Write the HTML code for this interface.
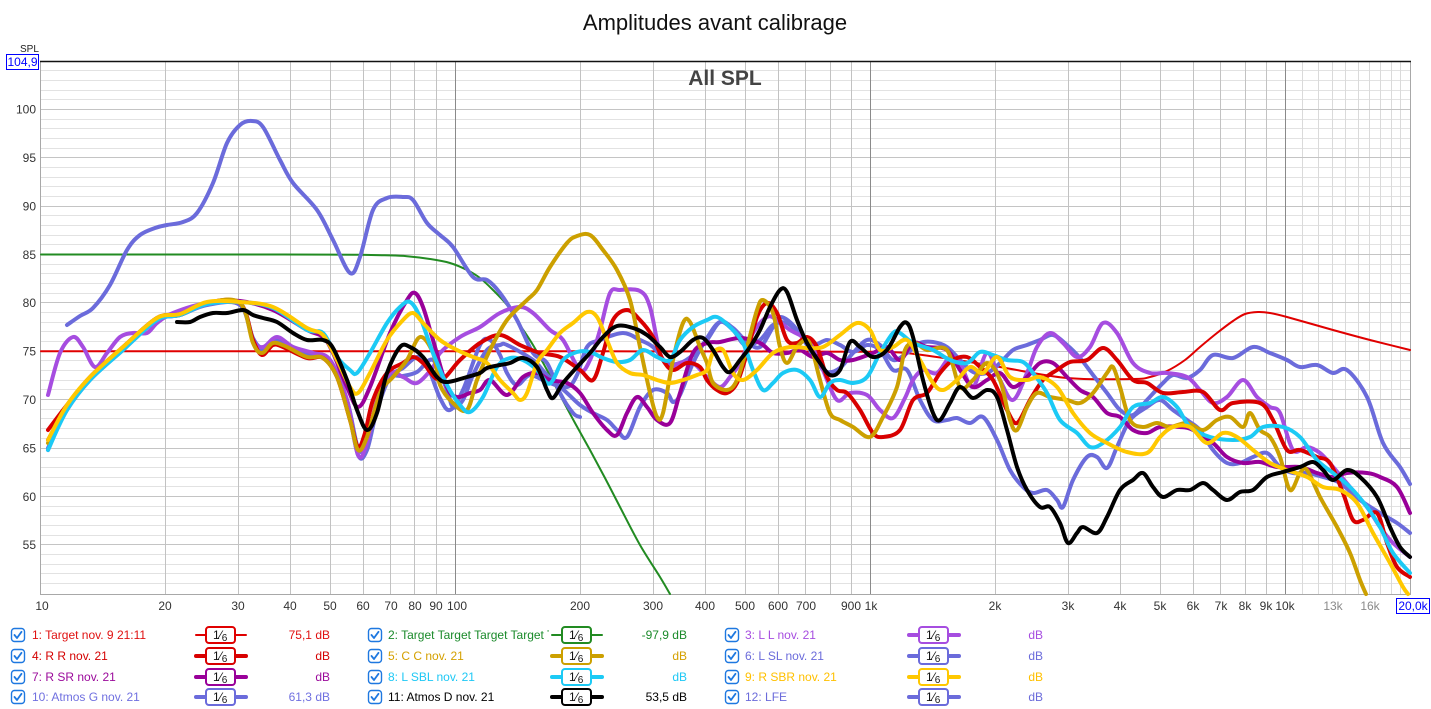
<!DOCTYPE html>
<html>
<head>
<meta charset="utf-8">
<style>
html,body{margin:0;padding:0;background:#fff;}
svg{display:block;}
text{font-family:"Liberation Sans",Arial,sans-serif;}
</style>
</head>
<body>
<svg id="chart" width="1431" height="709" viewBox="0 0 1431 709" xmlns="http://www.w3.org/2000/svg">
<rect x="0" y="0" width="1431" height="709" fill="#fff"/>
<text x="715" y="30" font-size="22" text-anchor="middle" fill="#111">Amplitudes avant calibrage</text>

<g stroke="#e2e2e2" stroke-width="1">
<line x1="40" x2="1410" y1="70.5" y2="70.5"/><line x1="40" x2="1410" y1="80.5" y2="80.5"/><line x1="40" x2="1410" y1="90.5" y2="90.5"/><line x1="40" x2="1410" y1="99.5" y2="99.5"/>
<line x1="40" x2="1410" y1="119.5" y2="119.5"/><line x1="40" x2="1410" y1="128.5" y2="128.5"/><line x1="40" x2="1410" y1="138.5" y2="138.5"/><line x1="40" x2="1410" y1="148.5" y2="148.5"/>
<line x1="40" x2="1410" y1="167.5" y2="167.5"/><line x1="40" x2="1410" y1="177.5" y2="177.5"/><line x1="40" x2="1410" y1="186.5" y2="186.5"/><line x1="40" x2="1410" y1="196.5" y2="196.5"/>
<line x1="40" x2="1410" y1="215.5" y2="215.5"/><line x1="40" x2="1410" y1="225.5" y2="225.5"/><line x1="40" x2="1410" y1="235.5" y2="235.5"/><line x1="40" x2="1410" y1="244.5" y2="244.5"/>
<line x1="40" x2="1410" y1="264.5" y2="264.5"/><line x1="40" x2="1410" y1="273.5" y2="273.5"/><line x1="40" x2="1410" y1="283.5" y2="283.5"/><line x1="40" x2="1410" y1="293.5" y2="293.5"/>
<line x1="40" x2="1410" y1="312.5" y2="312.5"/><line x1="40" x2="1410" y1="322.5" y2="322.5"/><line x1="40" x2="1410" y1="331.5" y2="331.5"/><line x1="40" x2="1410" y1="341.5" y2="341.5"/>
<line x1="40" x2="1410" y1="360.5" y2="360.5"/><line x1="40" x2="1410" y1="370.5" y2="370.5"/><line x1="40" x2="1410" y1="380.5" y2="380.5"/><line x1="40" x2="1410" y1="389.5" y2="389.5"/>
<line x1="40" x2="1410" y1="409.5" y2="409.5"/><line x1="40" x2="1410" y1="418.5" y2="418.5"/><line x1="40" x2="1410" y1="428.5" y2="428.5"/><line x1="40" x2="1410" y1="438.5" y2="438.5"/>
<line x1="40" x2="1410" y1="457.5" y2="457.5"/><line x1="40" x2="1410" y1="467.5" y2="467.5"/><line x1="40" x2="1410" y1="477.5" y2="477.5"/><line x1="40" x2="1410" y1="486.5" y2="486.5"/>
<line x1="40" x2="1410" y1="506.5" y2="506.5"/><line x1="40" x2="1410" y1="515.5" y2="515.5"/><line x1="40" x2="1410" y1="525.5" y2="525.5"/><line x1="40" x2="1410" y1="535.5" y2="535.5"/>
<line x1="40" x2="1410" y1="554.5" y2="554.5"/><line x1="40" x2="1410" y1="564.5" y2="564.5"/><line x1="40" x2="1410" y1="573.5" y2="573.5"/><line x1="40" x2="1410" y1="583.5" y2="583.5"/>
</g>
<g stroke="#dadada" stroke-width="1">
<line x1="1302.5" x2="1302.5" y1="62" y2="594"/><line x1="1318.5" x2="1318.5" y1="62" y2="594"/><line x1="1332.5" x2="1332.5" y1="62" y2="594"/><line x1="1345.5" x2="1345.5" y1="62" y2="594"/><line x1="1358.5" x2="1358.5" y1="62" y2="594"/><line x1="1369.5" x2="1369.5" y1="62" y2="594"/><line x1="1380.5" x2="1380.5" y1="62" y2="594"/><line x1="1391.5" x2="1391.5" y1="62" y2="594"/><line x1="1400.5" x2="1400.5" y1="62" y2="594"/>
</g>
<g stroke="#c4c4c4" stroke-width="1">
<line x1="40" x2="1410" y1="109.5" y2="109.5"/><line x1="40" x2="1410" y1="157.5" y2="157.5"/><line x1="40" x2="1410" y1="206.5" y2="206.5"/><line x1="40" x2="1410" y1="254.5" y2="254.5"/>
<line x1="40" x2="1410" y1="302.5" y2="302.5"/><line x1="40" x2="1410" y1="351.5" y2="351.5"/><line x1="40" x2="1410" y1="399.5" y2="399.5"/><line x1="40" x2="1410" y1="448.5" y2="448.5"/>
<line x1="40" x2="1410" y1="496.5" y2="496.5"/><line x1="40" x2="1410" y1="544.5" y2="544.5"/>
</g>
<g stroke="#c2c2c2" stroke-width="1">
<line x1="165.5" x2="165.5" y1="62" y2="594"/><line x1="238.5" x2="238.5" y1="62" y2="594"/><line x1="290.5" x2="290.5" y1="62" y2="594"/><line x1="330.5" x2="330.5" y1="62" y2="594"/><line x1="363.5" x2="363.5" y1="62" y2="594"/><line x1="390.5" x2="390.5" y1="62" y2="594"/><line x1="414.5" x2="414.5" y1="62" y2="594"/><line x1="436.5" x2="436.5" y1="62" y2="594"/>
<line x1="580.5" x2="580.5" y1="62" y2="594"/><line x1="653.5" x2="653.5" y1="62" y2="594"/><line x1="705.5" x2="705.5" y1="62" y2="594"/><line x1="745.5" x2="745.5" y1="62" y2="594"/><line x1="778.5" x2="778.5" y1="62" y2="594"/><line x1="805.5" x2="805.5" y1="62" y2="594"/><line x1="830.5" x2="830.5" y1="62" y2="594"/><line x1="851.5" x2="851.5" y1="62" y2="594"/>
<line x1="995.5" x2="995.5" y1="62" y2="594"/><line x1="1068.5" x2="1068.5" y1="62" y2="594"/><line x1="1120.5" x2="1120.5" y1="62" y2="594"/><line x1="1160.5" x2="1160.5" y1="62" y2="594"/><line x1="1193.5" x2="1193.5" y1="62" y2="594"/><line x1="1220.5" x2="1220.5" y1="62" y2="594"/><line x1="1245.5" x2="1245.5" y1="62" y2="594"/><line x1="1266.5" x2="1266.5" y1="62" y2="594"/>
</g>
<g stroke="#8a8a8a" stroke-width="1">
<line x1="455.5" x2="455.5" y1="62" y2="594"/><line x1="870.5" x2="870.5" y1="62" y2="594"/><line x1="1285.5" x2="1285.5" y1="62" y2="594"/>
</g>
<line x1="40.5" x2="40.5" y1="61" y2="594" stroke="#a8a8a8"/>
<line x1="1410.5" x2="1410.5" y1="61" y2="594" stroke="#a8a8a8"/>
<line x1="40" x2="1411" y1="594.5" y2="594.5" stroke="#a8a8a8"/>
<line x1="40" x2="1411" y1="61.5" y2="61.5" stroke="#111" stroke-width="1.5"/>

<text x="725" y="85" font-size="21" font-weight="bold" text-anchor="middle" fill="#444">All SPL</text>

<g font-size="12" fill="#333" text-anchor="end">
<text x="36" y="113.5">100</text><text x="36" y="162">95</text><text x="36" y="210.5">90</text><text x="36" y="259">85</text>
<text x="36" y="307">80</text><text x="36" y="355.5">75</text><text x="36" y="404">70</text><text x="36" y="452.5">65</text>
<text x="36" y="501">60</text><text x="36" y="549">55</text>
</g>
<text x="20" y="52" font-size="10" fill="#222">SPL</text>
<rect x="6.5" y="54.5" width="32" height="15" fill="#fff" stroke="#0000ff"/>
<text x="22.5" y="66" font-size="12" fill="#0000ff" text-anchor="middle">104,9</text>

<g font-size="12" fill="#333" text-anchor="middle">
<text x="42" y="610">10</text><text x="165" y="610">20</text><text x="238" y="610">30</text><text x="290" y="610">40</text><text x="330" y="610">50</text><text x="363" y="610">60</text><text x="391" y="610">70</text><text x="415" y="610">80</text><text x="436" y="610">90</text><text x="457" y="610">100</text>
<text x="580" y="610">200</text><text x="653" y="610">300</text><text x="705" y="610">400</text><text x="745" y="610">500</text><text x="778" y="610">600</text><text x="806" y="610">700</text><text x="851" y="610">900</text><text x="871" y="610">1k</text>
<text x="995" y="610">2k</text><text x="1068" y="610">3k</text><text x="1120" y="610">4k</text><text x="1160" y="610">5k</text><text x="1193" y="610">6k</text><text x="1221" y="610">7k</text><text x="1245" y="610">8k</text><text x="1266" y="610">9k</text><text x="1285" y="610">10k</text>
<text x="1333" y="610" fill="#8a8a8a">13k</text><text x="1370" y="610" fill="#8a8a8a">16k</text>
</g>
<rect x="1396.5" y="598.5" width="33" height="15" fill="#fff" stroke="#0000ff"/>
<text x="1413" y="610" font-size="12" fill="#0000ff" text-anchor="middle">20,0k</text>

<g id="curves" fill="none" stroke-linejoin="round" stroke-linecap="round">
<polyline class="s" stroke="#228b22" stroke-width="2" points="41,254.5 100,254.5 160,254.5 220,254.5 280,254.5 330,254.6 360,254.8 385,255.3 407,256.2 430,259 450,263 467,270 480,278 493,290 507,305 520,325 533,345 547,370 560,395 575,423 590,450 605,478 620,507 640,545 660,577 670,594"/>
<polyline class="s" stroke="#e00000" stroke-width="2" points="41,351.3 150,351.3 300,351.3 450,351.3 600,351.3 750,351.4 850,351.7 900,352.5 950,359 1000,367 1067,378 1133,379 1150,377 1167,371 1185,360 1200,347 1217,333 1233,321 1245,314 1258,312 1270,313 1287,317 1333,330 1370,340 1410,350"/>

<polyline class="s" stroke="#6b6bdb" stroke-width="4" points="67,325 80,316 93,308 110,285 127,250 140,235 155,228 167,225 183,222 197,213 213,183 227,143 240,125 252,121 263,127 280,160 293,183 317,210 333,240 350,273 360,257 373,210 387,198 403,197 413,200 427,223 440,235 453,247 473,277 487,280 500,293 517,320 533,353 547,363 560,393 573,413 580,417"/>
<polyline class="s" stroke="#6b6bdb" stroke-width="4" points="48,450 67,408 90,378 123,348 157,320 180,315 207,305 240,305 253,340 263,350 277,340 293,348 313,355 330,362 347,405 358,455 367,450 377,410 390,377 403,368 417,357 427,365 440,398 450,410 463,390 480,345 490,340 500,355 507,373 517,385 530,375 547,382 567,387 577,375 587,347 600,340 623,333 640,340 653,347 667,363 680,363 693,355 707,340 720,322 733,328 747,342 760,347 773,327 780,317 793,325 807,345 817,362 827,372 840,368 853,353 867,340 880,345 893,360 907,353 920,343 933,342 947,347 960,360 973,372 987,373 1000,363 1013,350 1027,345 1040,340 1053,335 1067,345 1080,358 1093,375 1107,393 1120,410 1133,415 1147,400 1163,383 1173,375 1187,378 1200,370 1213,355 1233,358 1253,347 1270,353 1287,360 1300,367 1317,365 1333,373 1347,370 1367,397 1383,443 1400,467 1410,484"/>
<polyline class="s" stroke="#6b6bdb" stroke-width="4" points="48,448 67,410 90,380 123,350 157,320 180,315 207,304 240,304 253,338 263,348 277,340 293,348 313,355 330,360 347,400 358,448 367,445 377,405 390,378 403,376 417,372 433,360 447,390 453,407 463,400 473,375 487,350 500,345 507,345 533,360 547,375 567,393 580,405 593,413 607,420 617,430 627,437 640,407 653,390 667,393 673,402 680,395 693,363 707,338 720,322 733,330 745,345 760,340 773,325 787,323 800,335 813,345 827,340 840,345 853,352 867,345 880,350 893,370 907,370 920,400 933,420 947,420 957,418 970,423 983,417 997,440 1010,470 1023,487 1033,493 1047,490 1057,500 1063,507 1073,480 1087,457 1097,457 1107,468 1117,447 1130,420 1147,407 1160,400 1173,410 1187,420 1200,430 1213,450 1227,463 1240,463 1253,457 1267,453 1280,467 1293,473 1307,473 1323,477 1340,483 1360,500 1380,513 1397,523 1410,533"/>
<polyline class="s" stroke="#a64de0" stroke-width="4" points="48,395 60,353 73,337 83,347 95,367 107,353 120,337 133,333 147,333 157,323 173,313 207,303 240,303 253,340 263,347 277,337 293,347 313,353 330,360 347,400 358,455 367,443 377,400 390,373 403,377 417,383 433,367 440,353 460,337 480,327 500,313 520,307 533,313 550,330 563,340 580,370 590,360 600,330 610,293 620,290 640,291 650,307 660,353 670,367 680,363 693,363 707,377 720,387 730,377 740,363 753,333 767,317 777,320 790,330 803,337 813,347 823,370 837,400 850,393 867,395 880,410 893,418 905,398 913,380 923,370 937,373 950,357 960,363 973,387 987,353 1000,380 1013,400 1027,373 1037,347 1050,333 1063,343 1077,357 1090,347 1103,323 1117,333 1133,363 1150,373 1167,373 1187,377 1200,390 1213,403 1227,397 1243,380 1257,397 1270,407 1280,413 1293,450 1307,447 1320,453 1333,467 1350,487 1367,507 1380,527 1393,543 1410,557"/>
<polyline class="s" stroke="#990099" stroke-width="4" points="48,440 67,407 90,378 123,348 157,318 180,314 207,303 240,301 273,310 307,330 323,337 333,353 347,387 358,407 370,387 390,333 407,300 415,293 423,307 433,340 447,387 457,397 470,393 480,390 490,380 507,395 523,377 537,373 550,380 567,383 580,393 593,413 607,430 617,435 627,413 637,397 647,407 657,420 670,423 680,393 693,353 707,343 720,342 740,338 760,343 773,353 787,353 800,350 813,357 827,353 840,360 853,360 873,353 887,347 900,360 913,343 927,347 947,350 960,370 973,387 987,380 1000,373 1013,387 1027,377 1040,363 1053,363 1067,377 1080,390 1093,397 1107,413 1120,417 1133,430 1147,433 1160,427 1180,427 1193,430 1213,443 1227,457 1243,463 1260,462 1277,467 1300,467 1317,473 1333,477 1347,473 1367,473 1380,477 1397,487 1410,513"/>
<polyline class="s" stroke="#d80000" stroke-width="4" points="48,430 67,405 90,377 123,347 157,318 180,315 207,303 240,303 253,340 262,355 273,345 283,347 307,358 323,358 337,377 350,420 358,447 365,433 373,400 387,373 403,363 413,357 423,363 440,380 460,360 480,343 500,335 520,345 540,353 560,357 580,370 593,380 603,353 613,320 627,310 640,320 653,337 663,360 673,370 687,363 700,367 707,380 717,390 727,393 737,383 747,353 757,317 767,303 777,313 787,340 797,343 807,337 817,347 827,377 837,390 847,393 860,410 873,433 883,437 900,430 913,400 927,393 940,373 953,360 967,357 980,367 993,380 1007,410 1017,423 1030,400 1043,380 1057,370 1070,362 1087,360 1103,348 1117,360 1133,380 1147,383 1163,393 1183,392 1203,392 1220,410 1233,403 1260,403 1273,420 1287,450 1300,450 1317,457 1330,463 1343,493 1353,520 1363,520 1377,513 1387,543 1397,567 1410,577"/>
<polyline class="s" stroke="#cca000" stroke-width="4" points="48,443 67,407 90,378 123,348 157,318 180,315 207,303 240,303 253,343 262,353 273,343 287,347 307,357 323,358 337,377 350,420 358,450 367,437 380,393 393,377 407,360 420,337 433,353 440,385 453,403 467,410 477,380 490,350 507,320 527,300 537,290 550,267 567,243 577,236 590,235 603,250 617,270 630,300 640,347 650,393 657,417 663,413 673,360 683,323 690,322 700,347 707,363 713,383 727,390 737,380 747,347 757,310 763,300 773,313 780,347 787,363 797,347 807,340 813,353 820,380 830,413 840,420 853,427 870,437 883,417 897,387 905,350 915,343 927,350 947,350 960,387 973,380 987,363 1000,380 1010,420 1017,430 1027,407 1037,393 1050,397 1067,400 1080,403 1093,393 1107,373 1113,367 1120,387 1130,420 1143,427 1157,423 1170,427 1187,423 1203,430 1217,420 1230,417 1243,427 1250,413 1260,430 1270,437 1280,457 1290,490 1300,473 1307,470 1320,497 1337,527 1350,553 1360,580 1366,594"/>
<polyline class="s" stroke="#1ccaf5" stroke-width="4" points="48,450 67,410 90,380 123,350 157,320 180,315 207,304 240,302 273,308 307,330 323,333 337,357 350,370 357,373 370,353 387,323 400,307 410,302 420,317 433,353 447,385 460,405 470,412 483,397 497,367 510,358 523,360 537,370 547,383 553,380 563,360 577,352 590,352 603,358 617,362 630,360 643,350 657,357 670,360 680,340 693,327 707,320 717,317 730,327 743,343 753,370 763,390 773,383 783,373 797,370 810,380 820,397 830,383 840,380 853,383 867,377 880,353 893,333 900,333 913,343 933,350 950,360 967,363 980,352 993,355 1007,360 1023,362 1033,373 1047,393 1060,420 1077,433 1090,447 1103,443 1120,427 1133,407 1150,403 1163,397 1177,407 1190,427 1210,437 1233,440 1250,437 1263,427 1283,427 1300,437 1317,460 1333,473 1350,487 1367,507 1380,527 1393,553 1410,573"/>
<polyline class="s" stroke="#ffc800" stroke-width="4" points="48,440 67,405 90,377 123,347 157,318 180,314 207,302 240,302 273,307 307,328 323,335 337,360 350,387 358,393 370,373 387,340 403,320 413,313 423,323 440,340 457,350 473,357 487,363 500,380 513,393 520,400 527,393 537,363 547,350 560,333 573,323 587,312 597,317 607,340 617,363 630,373 643,375 657,380 670,383 683,380 697,375 707,370 713,353 723,350 733,373 743,380 757,370 773,353 790,347 807,348 823,347 840,335 857,323 870,330 880,350 893,347 907,340 920,360 933,383 943,390 957,380 970,367 983,373 997,357 1010,377 1027,380 1040,377 1057,387 1073,413 1090,433 1107,443 1127,452 1147,453 1160,437 1173,427 1190,427 1207,443 1223,433 1237,437 1253,450 1270,463 1287,470 1307,477 1323,487 1340,490 1357,503 1373,533 1390,563 1403,587 1408,594"/>
<polyline class="s" stroke="#000" stroke-width="4" points="177,322 190,322 200,317 213,313 227,313 243,310 253,315 263,318 277,322 293,333 307,340 323,340 333,348 347,380 357,410 367,430 377,413 387,373 400,347 410,347 423,357 437,377 447,382 467,377 480,373 487,368 500,365 510,363 523,358 537,367 547,390 553,398 563,383 577,367 590,353 603,337 617,326 633,328 647,335 660,347 670,357 680,352 693,340 703,338 713,350 723,367 730,372 740,360 750,347 760,330 770,307 780,290 787,292 797,320 807,343 820,363 830,375 840,370 850,342 860,347 873,357 887,350 900,327 907,323 913,337 923,380 933,413 940,420 950,403 960,387 973,398 987,390 997,397 1007,430 1017,467 1027,490 1040,507 1050,507 1060,523 1068,543 1077,533 1083,527 1097,533 1107,517 1120,490 1133,480 1143,473 1153,487 1163,497 1177,490 1190,490 1203,483 1213,490 1227,500 1240,492 1253,490 1267,477 1283,472 1300,467 1313,462 1323,470 1333,480 1347,470 1360,477 1377,497 1390,527 1400,547 1410,557"/>
</g>

<defs>
<clipPath id="c2"><rect x="380" y="620" width="169" height="30"/></clipPath>
<g id="cb">
<rect x="0.5" y="0.5" width="13" height="13" rx="3" fill="#fff" stroke="#1e78e0" stroke-width="1.4"/>
<path d="M3.5,7 L6,10 L10.5,3.8" fill="none" stroke="#1e78e0" stroke-width="1.8" stroke-linecap="round" stroke-linejoin="round"/>
</g>
</defs>
<g font-size="12">
<use href="#cb" x="11" y="628"/><use href="#cb" x="11" y="649"/><use href="#cb" x="11" y="670"/><use href="#cb" x="11" y="690"/>
<use href="#cb" x="368" y="628"/><use href="#cb" x="368" y="649"/><use href="#cb" x="368" y="670"/><use href="#cb" x="368" y="690"/>
<use href="#cb" x="725" y="628"/><use href="#cb" x="725" y="649"/><use href="#cb" x="725" y="670"/><use href="#cb" x="725" y="690"/>

<text x="32" y="639" fill="#e01010">1: Target nov. 9 21:11</text>
<text x="32" y="660" fill="#d40000">4: R R nov. 21</text>
<text x="32" y="681" fill="#9b0a9b">7: R SR nov. 21</text>
<text x="32" y="701" fill="#7070e0">10: Atmos G nov. 21</text>

<text x="388" y="639" fill="#1a8a2a" clip-path="url(#c2)">2: Target Target Target Target Target</text>
<text x="388" y="660" fill="#d4a000">5: C C nov. 21</text>
<text x="388" y="681" fill="#1ec8f5">8: L SBL nov. 21</text>
<text x="388" y="701" fill="#000">11: Atmos D nov. 21</text>

<text x="745" y="639" fill="#a64de0">3: L L nov. 21</text>
<text x="745" y="660" fill="#6b6bdb">6: L SL nov. 21</text>
<text x="745" y="681" fill="#ffc000">9: R SBR nov. 21</text>
<text x="745" y="701" fill="#6b6bdb">12: LFE</text>

<g text-anchor="end">
<text x="330" y="639" fill="#e01010">75,1 dB</text>
<text x="330" y="660" fill="#d40000">dB</text>
<text x="330" y="681" fill="#9b0a9b">dB</text>
<text x="330" y="701" fill="#7070e0">61,3 dB</text>
<text x="687" y="639" fill="#1a8a2a">-97,9 dB</text>
<text x="687" y="660" fill="#d4a000">dB</text>
<text x="687" y="681" fill="#1ec8f5">dB</text>
<text x="687" y="701" fill="#000">53,5 dB</text>
<text x="1043" y="639" fill="#a64de0">dB</text>
<text x="1043" y="660" fill="#6b6bdb">dB</text>
<text x="1043" y="681" fill="#ffc000">dB</text>
<text x="1043" y="701" fill="#6b6bdb">dB</text>
</g>
</g>

<g fill="none" stroke-linecap="round">
<line x1="196" x2="246" y1="635" y2="635" stroke="#e00000" stroke-width="2"/>
<line x1="196" x2="246" y1="656" y2="656" stroke="#d80000" stroke-width="4"/>
<line x1="196" x2="246" y1="677" y2="677" stroke="#990099" stroke-width="4"/>
<line x1="196" x2="246" y1="697" y2="697" stroke="#6b6bdb" stroke-width="4"/>
<line x1="552" x2="602" y1="635" y2="635" stroke="#228b22" stroke-width="2"/>
<line x1="552" x2="602" y1="656" y2="656" stroke="#cca000" stroke-width="4"/>
<line x1="552" x2="602" y1="677" y2="677" stroke="#1ccaf5" stroke-width="4"/>
<line x1="552" x2="602" y1="697" y2="697" stroke="#000" stroke-width="4"/>
<line x1="909" x2="959" y1="635" y2="635" stroke="#a64de0" stroke-width="4"/>
<line x1="909" x2="959" y1="656" y2="656" stroke="#6b6bdb" stroke-width="4"/>
<line x1="909" x2="959" y1="677" y2="677" stroke="#ffc800" stroke-width="4"/>
<line x1="909" x2="959" y1="697" y2="697" stroke="#6b6bdb" stroke-width="4"/>
</g>
<g stroke-width="2" fill="#fff">
<rect x="206" y="627" width="29" height="16" rx="3" stroke="#e00000"/>
<rect x="206" y="648" width="29" height="16" rx="3" stroke="#d80000"/>
<rect x="206" y="669" width="29" height="16" rx="3" stroke="#990099"/>
<rect x="206" y="689" width="29" height="16" rx="3" stroke="#6b6bdb"/>
<rect x="562" y="627" width="29" height="16" rx="3" stroke="#228b22"/>
<rect x="562" y="648" width="29" height="16" rx="3" stroke="#cca000"/>
<rect x="562" y="669" width="29" height="16" rx="3" stroke="#1ccaf5"/>
<rect x="562" y="689" width="29" height="16" rx="3" stroke="#000"/>
<rect x="919" y="627" width="29" height="16" rx="3" stroke="#a64de0"/>
<rect x="919" y="648" width="29" height="16" rx="3" stroke="#6b6bdb"/>
<rect x="919" y="669" width="29" height="16" rx="3" stroke="#ffc800"/>
<rect x="919" y="689" width="29" height="16" rx="3" stroke="#6b6bdb"/>
</g>
<g font-size="12" fill="#111">
<text x="213" y="639">1<tspan>⁄</tspan><tspan font-size="10" dy="2">6</tspan></text>
<text x="213" y="660">1<tspan>⁄</tspan><tspan font-size="10" dy="2">6</tspan></text>
<text x="213" y="681">1<tspan>⁄</tspan><tspan font-size="10" dy="2">6</tspan></text>
<text x="213" y="701">1<tspan>⁄</tspan><tspan font-size="10" dy="2">6</tspan></text>
<text x="569" y="639">1<tspan>⁄</tspan><tspan font-size="10" dy="2">6</tspan></text>
<text x="569" y="660">1<tspan>⁄</tspan><tspan font-size="10" dy="2">6</tspan></text>
<text x="569" y="681">1<tspan>⁄</tspan><tspan font-size="10" dy="2">6</tspan></text>
<text x="569" y="701">1<tspan>⁄</tspan><tspan font-size="10" dy="2">6</tspan></text>
<text x="926" y="639">1<tspan>⁄</tspan><tspan font-size="10" dy="2">6</tspan></text>
<text x="926" y="660">1<tspan>⁄</tspan><tspan font-size="10" dy="2">6</tspan></text>
<text x="926" y="681">1<tspan>⁄</tspan><tspan font-size="10" dy="2">6</tspan></text>
<text x="926" y="701">1<tspan>⁄</tspan><tspan font-size="10" dy="2">6</tspan></text>
</g>
</svg>
<script>
(function(){
  var NS="http://www.w3.org/2000/svg";
  var pls=document.querySelectorAll("#curves polyline.s");
  for(var k=0;k<pls.length;k++){
    var pl=pls[k];
    var raw=pl.getAttribute("points").trim().split(/\s+/);
    var p=[];
    for(var i=0;i<raw.length;i++){var a=raw[i].split(",");p.push([parseFloat(a[0]),parseFloat(a[1])]);}
    if(p.length<3)continue;
    var d="M"+p[0][0]+","+p[0][1];
    for(var i=0;i<p.length-1;i++){
      var p0=p[i-1]||p[i],p1=p[i],p2=p[i+1],p3=p[i+2]||p2;
      var c1x=p1[0]+(p2[0]-p0[0])/6,c1y=p1[1]+(p2[1]-p0[1])/6;
      var c2x=p2[0]-(p3[0]-p1[0])/6,c2y=p2[1]-(p3[1]-p1[1])/6;
      d+=" C"+c1x.toFixed(2)+","+c1y.toFixed(2)+" "+c2x.toFixed(2)+","+c2y.toFixed(2)+" "+p2[0]+","+p2[1];
    }
    var path=document.createElementNS(NS,"path");
    path.setAttribute("d",d);
    path.setAttribute("stroke",pl.getAttribute("stroke"));
    path.setAttribute("stroke-width",pl.getAttribute("stroke-width"));
    path.setAttribute("fill","none");
    pl.parentNode.replaceChild(path,pl);
  }
})();
</script>
</body>
</html>
